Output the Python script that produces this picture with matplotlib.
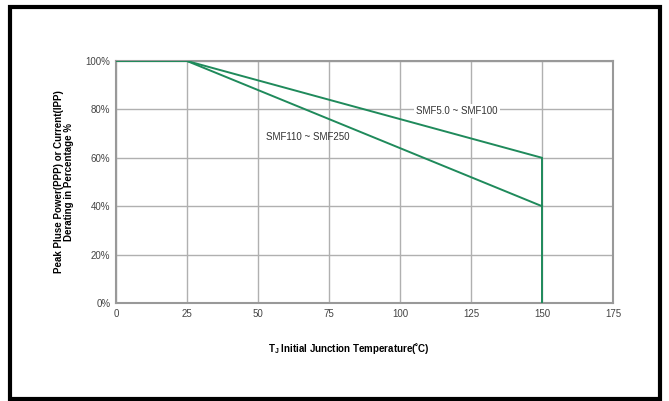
import matplotlib
matplotlib.use("Agg")
import matplotlib.pyplot as plt
from matplotlib.patches import Rectangle

# Data
series_a_name = "SMF5.0 ~ SMF100"
series_a_x = [0, 25, 150, 150]
series_a_y = [100, 100, 60, 0]
series_b_name = "SMF110 ~ SMF250"
series_b_x = [25, 150]
series_b_y = [100, 40]
x_ticks = [0, 25, 50, 75, 100, 125, 150, 175]
y_ticks = [0, 20, 40, 60, 80, 100]
y_tick_labels = ["0%", "20%", "40%", "60%", "80%", "100%"]

fam = ["Liberation Sans Narrow", "Liberation Sans", "DejaVu Sans"]
plt.rcParams['font.family'] = fam

fig = plt.figure(figsize=(6.69, 4.01), dpi=100)
W, H = 669, 401
ax = fig.add_axes([116 / W, 1 - 303 / H, (613 - 116) / W, (303 - 61) / H])

green = "#1f8a5b"
ax.plot(series_a_x, series_a_y, color=green, lw=1.4, zorder=3, solid_joinstyle="miter")
ax.plot(series_b_x, series_b_y, color=green, lw=1.4, zorder=3)

ax.set_xlim(0, 175)
ax.set_ylim(0, 100)
ax.set_xticks(x_ticks)
ax.set_xticklabels([str(t) for t in x_ticks])
ax.set_yticks(y_ticks)
ax.set_yticklabels(y_tick_labels)
ax.grid(True, color="#b0b0b0", lw=1.0, zorder=1)
ax.tick_params(length=0, labelsize=7, colors="#444444", pad=4)
for s in ax.spines.values():
    s.set_color("#999999")
    s.set_linewidth(1.5)

ax.text(120, 79.3, series_a_name, fontsize=7, color="#333333", ha="center", va="center",
        bbox=dict(facecolor="white", edgecolor="none", pad=1.5), zorder=4)
ax.text(67.6, 68.6, series_b_name, fontsize=7, color="#333333", ha="center", va="center", zorder=4)

fig.text(64 / W, 1 - 182 / H, "Peak Pluse Power(PPP) or Current(IPP)\nDerating in Percentage %",
         rotation=90, ha="center", va="center", fontsize=7, fontweight="bold", linespacing=1.0)
fig.text(349 / W, 1 - 349 / H, r"T$_{\mathregular{J}}$ Initial Junction Temperature(˚C)",
         ha="center", va="center", fontsize=7, fontweight="bold")

# outer black frame
fig.patches.append(Rectangle((9.5 / W, 1 - 398.5 / H), (660 - 9.5) / W, (398.5 - 6.5) / H,
                             transform=fig.transFigure, fill=False, edgecolor="black", lw=3))

fig.savefig("out.png", dpi=100)
